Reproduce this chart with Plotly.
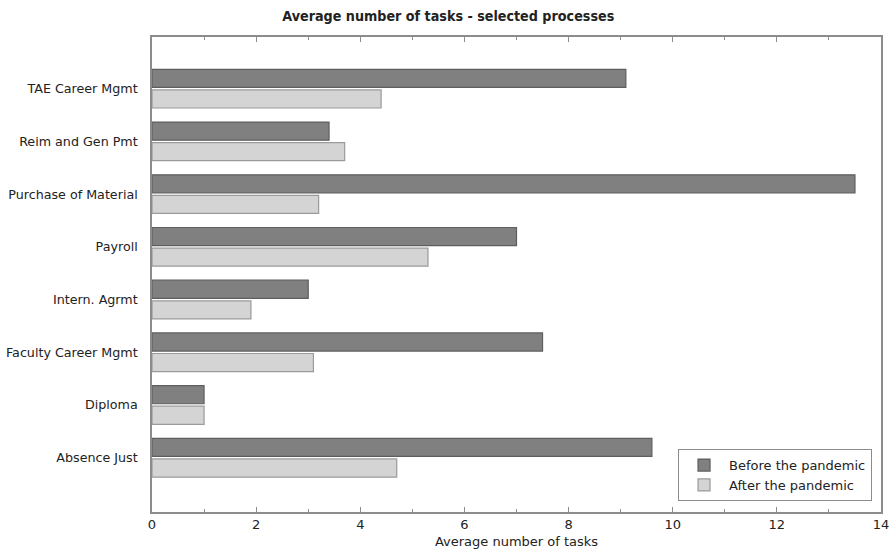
import plotly.graph_objects as go

# Processes, listed bottom to top as they appear on the axis
processes = [
    "Absence Just",
    "Diploma",
    "Faculty Career Mgmt",
    "Intern. Agrmt",
    "Payroll",
    "Purchase of Material",
    "Reim and Gen Pmt",
    "TAE Career Mgmt",
]
before_pandemic = [9.6, 1.0, 7.5, 3.0, 7.0, 13.5, 3.4, 9.1]
after_pandemic = [4.7, 1.0, 3.1, 1.9, 5.3, 3.2, 3.7, 4.4]

x_ticks = [0, 2, 4, 6, 8, 10, 12, 14]

FONT = "DejaVu Sans"
TEXT = "#222222"
AXIS = "#8c8c8c"

fig = go.Figure()

# horizontal grouped bars stack upward, so the lower bar of each pair goes first
fig.add_trace(go.Bar(
    y=processes, x=after_pandemic, orientation="h",
    name="After the pandemic",
    marker=dict(color="#d4d4d4", line=dict(color="#9a9a9a", width=1.2)),
))
fig.add_trace(go.Bar(
    y=processes, x=before_pandemic, orientation="h",
    name="Before the pandemic",
    marker=dict(color="#808080", line=dict(color="#5e5e5e", width=1.2)),
))

fig.update_layout(
    width=893, height=555,
    margin=dict(l=152, r=12, t=37, b=43),
    paper_bgcolor="white", plot_bgcolor="white",
    font=dict(family=FONT, size=13, color=TEXT),
    barmode="group", bargap=0.22, bargroupgap=0.12,
    title=dict(
        text="<b>Average number of tasks - selected processes</b>",
        x=0.502, xanchor="center", y=0.972, yanchor="middle",
        font=dict(family="DejaVu Sans Condensed", size=14.2, color=TEXT),
    ),
    legend=dict(
        traceorder="reversed",
        x=0.9877, xanchor="right", y=0.023, yanchor="bottom",
        bgcolor="white", bordercolor=AXIS, borderwidth=1,
        font=dict(family=FONT, size=13, color=TEXT),
        itemwidth=40,
    ),
    showlegend=True,
)

fig.update_xaxes(
    range=[0, 14], tickvals=x_ticks, ticktext=[str(v) for v in x_ticks],
    ticks="inside", ticklen=5, tickcolor=AXIS,
    minor=dict(ticks="inside", dtick=1, ticklen=3, tickcolor=AXIS),
    showline=True, linecolor=AXIS, linewidth=1.5, mirror="ticks",
    showgrid=False, zeroline=False, automargin=False,
    title=dict(text="Average number of tasks", standoff=6,
               font=dict(family=FONT, size=13, color=TEXT)),
    tickfont=dict(family=FONT, size=13, color=TEXT),
)
fig.update_yaxes(
    type="category", categoryorder="array", categoryarray=processes,
    range=[-1.03, 7.98], automargin=False,
    ticks="", showline=True, linecolor=AXIS, linewidth=1.5, mirror=True,
    showgrid=False, zeroline=False, ticklabelstandoff=10,
    tickfont=dict(family=FONT, size=12.7, color=TEXT),
)

fig.write_html("out.html")
